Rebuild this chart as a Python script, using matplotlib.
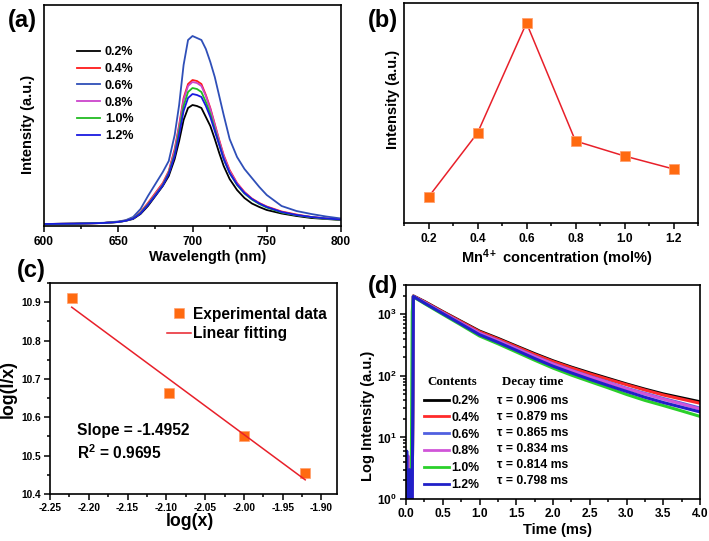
import numpy as np
import matplotlib
matplotlib.use("Agg")
import matplotlib.pyplot as plt
from matplotlib.ticker import MultipleLocator, NullLocator, LogLocator, NullFormatter

plt.rcParams['font.family'] = ['Liberation Sans', 'DejaVu Sans']
plt.rcParams['font.weight'] = 'bold'
plt.rcParams['axes.labelweight'] = 'bold'
plt.rcParams['axes.unicode_minus'] = False
plt.rcParams['mathtext.fontset'] = 'custom'
plt.rcParams['mathtext.rm'] = 'Liberation Sans:bold'
plt.rcParams['mathtext.bf'] = 'Liberation Sans:bold'
plt.rcParams['mathtext.it'] = 'Liberation Sans:bold'

# ---------------- data ----------------
conc_labels = ["0.2%", "0.4%", "0.6%", "0.8%", "1.0%", "1.2%"]

# (a) emission spectra
wl = [600, 620, 640, 650, 655, 660, 665, 670, 675, 680, 684, 688, 691, 694, 697,
      700, 703, 706, 709, 712, 715, 718, 721, 725, 730, 735, 740, 745, 750, 760,
      770, 780, 790, 800]
em_02 = [1.0, 1.3, 2.0, 3.0, 4.2, 6.0, 11, 19, 29, 39, 49, 66, 84, 105, 117,
         120, 119, 117, 108, 99, 86, 72, 59, 46, 35, 27, 21.5, 18, 15, 11.5,
         9, 7, 6, 5]
em_04 = [1.0, 1.3, 2.0, 3.2, 4.5, 7, 13, 22, 32, 42, 54, 76, 100, 127, 141,
         145, 144, 141, 130, 117, 101, 85, 70, 55, 42, 33, 26.5, 22, 18.5, 13.5,
         10.5, 8, 6.5, 5.5]
em_06 = [1.0, 1.4, 2.2, 3.5, 4.8, 8, 16, 29, 41, 53, 64, 90, 120, 160, 185,
         189, 187, 185, 176, 163, 148, 129, 110, 86, 68, 56, 47, 38, 30, 19,
         14, 11, 8.5, 6.5]
em_08 = [1.0, 1.3, 2.0, 3.1, 4.4, 6.8, 12.5, 21, 31, 41, 53, 74, 98, 125, 139,
         143, 142, 139, 129, 116, 100, 84, 69, 54, 41.5, 32.5, 26, 21.5, 18, 13,
         10, 8, 6.5, 5.5]
em_10 = [1.0, 1.3, 2.0, 3.0, 4.3, 6.6, 12, 20.5, 30, 40, 52, 71, 94, 119, 133,
         137, 136, 133, 123, 111, 96, 81, 66, 52, 40, 31.5, 25.5, 21, 17.5, 12.5,
         9.8, 7.8, 6.3, 5.3]
em_12 = [1.0, 1.3, 2.0, 3.0, 4.2, 6.4, 11.5, 20, 29.5, 39.5, 51, 69, 90, 114, 127,
         131, 130, 128, 119, 108, 94, 80, 66, 52, 40.5, 32, 26, 21.5, 18, 13,
         10, 8, 6.5, 5.5]
spectra = [em_02, em_04, em_06, em_08, em_10, em_12]
colors_a = ['#000000', '#ff1a1a', '#2f4fb8', '#cc44cc', '#22bb22', '#1a1ae0']

# (b) integrated intensity vs Mn4+ concentration
conc = [0.2, 0.4, 0.6, 0.8, 1.0, 1.2]
intensity = [26, 90, 200, 82, 67, 54]

# (c) log(I/x) vs log(x)
logx = [-2.222, -2.097, -2.0, -1.921]
logIx = [10.91, 10.662, 10.552, 10.455]

# (d) decay curves
t_d = [0.0, 0.01, 0.02, 0.03, 0.05, 0.07, 0.085, 0.1, 0.25, 0.5, 0.75, 1.0,
       1.25, 1.5, 1.75, 2.0, 2.25, 2.5, 2.75, 3.0, 3.25, 3.5, 3.75, 4.0]
dec_02 = [1, 2.5, 1, 3, 1, 1, 1, 1990, 1620, 1110, 770, 535, 408, 306, 230, 176,
          139, 112, 91, 74, 61, 51, 44, 38]
dec_04 = [1, 1, 4, 1, 1, 2, 1, 1980, 1600, 1095, 757, 522, 397, 298, 223, 171,
          135, 108, 88, 72, 59, 49, 42, 36]
dec_06 = [1, 3, 1, 1, 2, 1, 1, 1960, 1560, 1060, 725, 495, 375, 280, 208, 157,
          123, 98, 79, 63, 52, 43, 36, 30]
dec_08 = [1, 1, 2, 5, 1, 1, 1, 1950, 1560, 1055, 720, 492, 372, 277, 206, 156,
          122, 97, 78, 62, 51, 42, 35, 29]
dec_10 = [1, 1, 1, 2, 1, 1, 1100, 1930, 1500, 1000, 670, 445, 333, 245, 180, 134,
          103, 81, 64, 50, 40, 33, 27, 22]
dec_12 = [1, 6, 1, 1, 3, 1, 1, 1950, 1530, 1030, 695, 468, 352, 261, 192, 144,
          112, 88, 70, 56, 45, 37, 31, 26]
decays = [dec_02, dec_04, dec_06, dec_08, dec_10, dec_12]
colors_d = ['#000000', '#ff2a2a', '#5060e0', '#d055d8', '#2ad02a', '#2020c8']
taus = ["0.906", "0.879", "0.865", "0.834", "0.814", "0.798"]

orange = '#ff6a10'
fit_red = '#e8202a'

# ---------------- figure ----------------
W, H = 709, 541
fig = plt.figure(figsize=(W / 100, H / 100), dpi=100)


def ax_px(l, t, r, b):
    return fig.add_axes([l / W, 1 - b / H, (r - l) / W, (b - t) / H])


def style(ax, ls=8.6, pad=3.0):
    for s in ax.spines.values():
        s.set_linewidth(1.2)
    ax.tick_params(which='both', direction='out', top=False, right=False,
                   width=1.1, labelsize=ls, pad=pad)
    ax.tick_params(which='major', length=4)
    ax.tick_params(which='minor', length=2.2)
    for lab in ax.get_xticklabels() + ax.get_yticklabels():
        lab.set_fontweight('bold')


LBL = 10.5
PL = 17
# ---- (a)
axa = ax_px(44, 5, 341, 226)
for y, c, lab in zip(spectra, colors_a, conc_labels):
    axa.plot(wl, y, color=c, lw=1.3, label=lab)
axa.set_xlim(600, 800)
axa.set_ylim(-1, 220)
axa.xaxis.set_major_locator(MultipleLocator(50))
axa.xaxis.set_minor_locator(MultipleLocator(25))
axa.yaxis.set_major_locator(NullLocator())
axa.set_xlabel("Wavelength (nm)", fontsize=LBL, fontweight='bold')
axa.set_ylabel("Intensity (a.u.)", fontsize=LBL, fontweight='bold')
axa.xaxis.set_label_coords(0.55, -0.109)
axa.yaxis.set_label_coords(-0.03, 0.46)
style(axa)
axa.legend(loc='upper left', bbox_to_anchor=(0.111, 0.813), frameon=False,
           handlelength=1.84, handletextpad=0.4, labelspacing=0.38,
           borderpad=0, borderaxespad=0, prop={'weight': 'bold', 'size': 9})
fig.text(22 / W, 1 - 20 / H, "(a)", fontsize=PL, fontweight='bold', ha='center', va='center')

# ---- (b)
axb = ax_px(404, 3, 698, 223)
axb.plot(conc, intensity, color=fit_red, lw=1.1, marker='s', markersize=7.5,
         markerfacecolor=orange, markeredgecolor='#ffa070', markeredgewidth=0.6)
axb.set_xlim(0.1, 1.3)
axb.set_ylim(0, 220)
axb.xaxis.set_minor_locator(MultipleLocator(0.1))
axb.yaxis.set_major_locator(NullLocator())
axb.set_xticks(conc)
axb.set_xticklabels(["0.2", "0.4", "0.6", "0.8", "1.0", "1.2"])
axb.set_xlabel("Mn$^{4+}$ concentration (mol%)", fontsize=LBL, fontweight='bold')
axb.set_ylabel("Intensity (a.u.)", fontsize=LBL, fontweight='bold')
axb.xaxis.set_label_coords(0.52, -0.11)
axb.yaxis.set_label_coords(-0.014, 0.56)
style(axb)
fig.text(383 / W, 1 - 20 / H, "(b)", fontsize=PL, fontweight='bold', ha='center', va='center')

# ---- (c)
axc = ax_px(50, 283, 337, 494)
axc.plot(logx, logIx, linestyle='none', marker='s', markersize=7,
         color=orange, markeredgecolor='#ffa070', markeredgewidth=0.5,
         label='Experimental data')
coef = np.polyfit(logx, logIx, 1)
xfit = np.array([min(logx), max(logx)])
axc.plot(xfit, np.polyval(coef, xfit), color=fit_red, lw=1.1, label='Linear fitting')
axc.set_xlim(-2.25, -1.88)
axc.set_ylim(10.4, 10.95)
axc.xaxis.set_major_locator(MultipleLocator(0.05))
axc.xaxis.set_minor_locator(MultipleLocator(0.025))
axc.yaxis.set_major_locator(MultipleLocator(0.1))
axc.yaxis.set_minor_locator(MultipleLocator(0.05))
axc.set_xlabel("log(x)", fontsize=12.8, fontweight='bold')
axc.set_ylabel("log(I/x)", fontsize=12.8, fontweight='bold')
axc.xaxis.set_label_coords(0.488, -0.09)
axc.yaxis.set_label_coords(-0.116, 0.5)
style(axc, 7.3, pad=2.2)
axc.legend(loc='upper left', bbox_to_anchor=(0.408, 0.887), frameon=False,
           handlelength=1.54, handletextpad=0.15, labelspacing=0.29,
           borderpad=0, borderaxespad=0, prop={'weight': 'bold', 'size': 11.2})
axc.text(0.094, 0.299, "Slope = -1.4952", transform=axc.transAxes,
         fontsize=11.2, fontweight='bold', va='center')
axc.text(0.094, 0.194, "R$^{2}$ = 0.9695", transform=axc.transAxes,
         fontsize=11.2, fontweight='bold', va='center')
fig.text(31 / W, 1 - 270 / H, "(c)", fontsize=PL, fontweight='bold', ha='center', va='center')

# ---- (d)
axd = ax_px(406, 285, 700, 499)
for y, c, lab in zip(decays, colors_d, conc_labels):
    axd.plot(t_d, y, color=c, lw=2.2, label=lab)
axd.set_yscale('log')
axd.set_xlim(0, 4.0)
axd.set_ylim(1, 3000)
axd.xaxis.set_major_locator(MultipleLocator(0.5))
axd.xaxis.set_minor_locator(MultipleLocator(0.25))
axd.yaxis.set_major_locator(LogLocator(base=10, numticks=10))
axd.yaxis.set_minor_locator(LogLocator(base=10, subs=np.arange(2, 10), numticks=10))
axd.yaxis.set_minor_formatter(NullFormatter())
axd.set_xlabel("Time (ms)", fontsize=LBL, fontweight='bold')
axd.set_ylabel("Log Intensity (a.u.)", fontsize=LBL, fontweight='bold')
axd.xaxis.set_label_coords(0.517, -0.11)
axd.yaxis.set_label_coords(-0.105, 0.39)
style(axd, pad=2.5)
leg = axd.legend(loc='upper left', bbox_to_anchor=(0.061, 0.486), frameon=False,
                 handlelength=2.05, handletextpad=0.2, labelspacing=0.39,
                 borderpad=0, borderaxespad=0, prop={'weight': 'bold', 'size': 8.8})
for h in leg.get_lines():
    h.set_linewidth(2.0)
serif = ['Liberation Serif', 'DejaVu Serif']
axd.text(0.159, 0.547, "Contents", transform=axd.transAxes, ha='center', va='center',
         fontsize=9.3, fontweight='bold', family=serif)
axd.text(0.432, 0.547, "Decay time", transform=axd.transAxes, ha='center', va='center',
         fontsize=9.3, fontweight='bold', family=serif)
for i, tv in enumerate(taus):
    ypx = 400.7 + 16.1 * i
    axd.text(0.31, (499 - ypx) / 214, "\u03c4 = " + tv + " ms", transform=axd.transAxes,
             ha='left', va='center', fontsize=8.8, fontweight='bold')
fig.text(383 / W, 1 - 286 / H, "(d)", fontsize=PL, fontweight='bold', ha='center', va='center')

fig.savefig("out.png", dpi=100)
